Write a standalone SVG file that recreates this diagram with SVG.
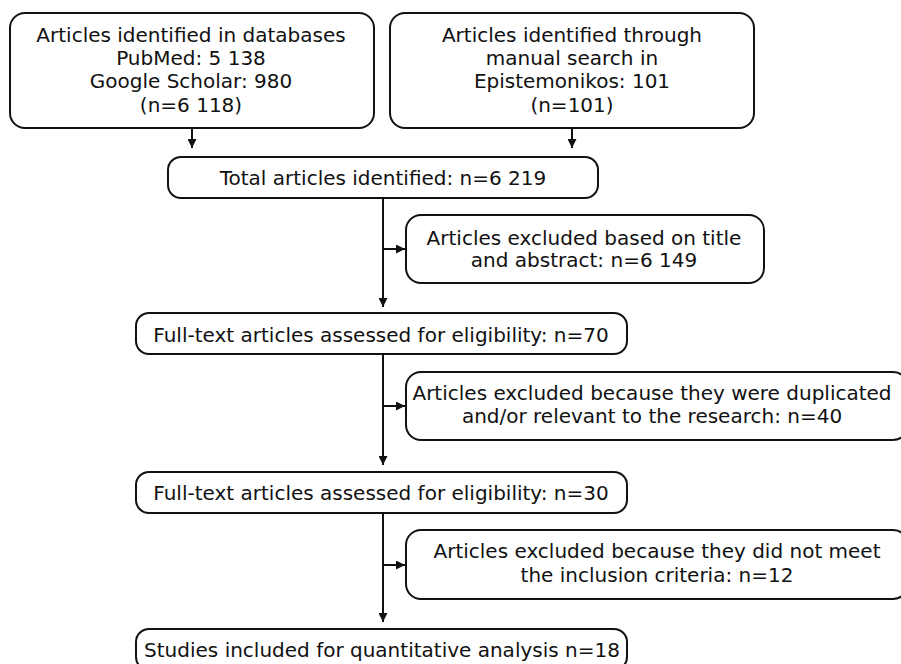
<svg xmlns="http://www.w3.org/2000/svg" width="901" height="664" viewBox="0 0 901 664">
<style>
.box{fill:#fff;stroke:#111;stroke-width:2}
.lbl{font-family:"DejaVu Sans",Verdana,sans-serif;font-size:20px;fill:#111;text-anchor:middle}
.con{fill:none;stroke:#111;stroke-width:2}
</style>
<defs>
<marker id="arr" viewBox="0 0 10 10" markerWidth="9" markerHeight="9" refX="10" refY="5" orient="auto" markerUnits="userSpaceOnUse">
<path d="M0,0 L10,5 L0,10 z" fill="#111"/>
</marker>
</defs>
<rect width="901" height="664" fill="#fff"/>
<g id="connectors">
<line class="con" x1="192" y1="128" x2="192" y2="148" marker-end="url(#arr)"/>
<line class="con" x1="572" y1="128" x2="572" y2="148" marker-end="url(#arr)"/>
<line class="con" x1="383" y1="198" x2="383" y2="307" marker-end="url(#arr)"/>
<line class="con" x1="383" y1="249" x2="405" y2="249" marker-end="url(#arr)"/>
<line class="con" x1="383" y1="354" x2="383" y2="465" marker-end="url(#arr)"/>
<line class="con" x1="383" y1="406" x2="405" y2="406" marker-end="url(#arr)"/>
<line class="con" x1="383" y1="513" x2="383" y2="622" marker-end="url(#arr)"/>
<line class="con" x1="383" y1="565" x2="405" y2="565" marker-end="url(#arr)"/>
</g>
<g id="n1">
<rect class="box" x="10" y="13" width="364" height="115" rx="15"/>
<text class="lbl" x="191" y="41.7">Articles identified in databases</text>
<text class="lbl" x="191" y="65">PubMed: 5 138</text>
<text class="lbl" x="191" y="88.3">Google Scholar: 980</text>
<text class="lbl" x="191" y="111.7">(n=6 118)</text>
</g>
<g id="n2">
<rect class="box" x="390" y="13" width="364" height="115" rx="15"/>
<text class="lbl" x="572" y="41.7">Articles identified through</text>
<text class="lbl" x="572" y="65">manual search in</text>
<text class="lbl" x="572" y="88.3">Epistemonikos: 101</text>
<text class="lbl" x="572" y="111.7">(n=101)</text>
</g>
<g id="n3">
<rect class="box" x="168" y="157" width="430" height="41" rx="13"/>
<text class="lbl" x="383" y="185">Total articles identified: n=6 219</text>
</g>
<g id="n4">
<rect class="box" x="406" y="215" width="358" height="68" rx="15"/>
<text class="lbl" x="584" y="244.5">Articles excluded based on title</text>
<text class="lbl" x="584" y="267">and abstract: n=6 149</text>
</g>
<g id="n5">
<rect class="box" x="136" y="313" width="491" height="41" rx="13"/>
<text class="lbl" x="381" y="341.5">Full-text articles assessed for eligibility: n=70</text>
</g>
<g id="n6">
<rect class="box" x="406" y="372" width="502" height="68" rx="15"/>
<text class="lbl" x="652" y="399.5">Articles excluded because they were duplicated</text>
<text class="lbl" x="652" y="423">and/or relevant to the research: n=40</text>
</g>
<g id="n7">
<rect class="box" x="136" y="472" width="491" height="41" rx="13"/>
<text class="lbl" x="381" y="500">Full-text articles assessed for eligibility: n=30</text>
</g>
<g id="n8">
<rect class="box" x="406" y="530" width="502" height="69" rx="15"/>
<text class="lbl" x="657" y="558">Articles excluded because they did not meet</text>
<text class="lbl" x="657" y="582">the inclusion criteria: n=12</text>
</g>
<g id="n9">
<rect class="box" x="136" y="629" width="491" height="41" rx="13"/>
<text class="lbl" x="382" y="657">Studies included for quantitative analysis n=18</text>
</g>
</svg>
